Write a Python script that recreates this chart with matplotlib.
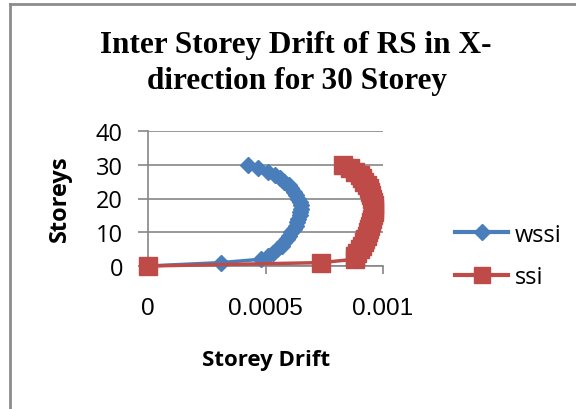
import matplotlib.pyplot as plt
from matplotlib.lines import Line2D

storeys = list(range(0, 31))

wssi = [0, 0.00031, 0.00048, 0.00051, 0.00053, 0.00055, 0.00057, 0.00058, 0.00059, 0.00060,
        0.00061, 0.00062, 0.00063, 0.000635, 0.00064, 0.000645, 0.000648, 0.00065, 0.00065,
        0.000645, 0.00064, 0.00063, 0.00062, 0.00061, 0.0006, 0.00058, 0.00056, 0.00054,
        0.00051, 0.00047, 0.000425]

ssi = [0, 0.000735, 0.00088, 0.00088, 0.00089, 0.0009, 0.00091, 0.00092, 0.000925, 0.00093,
       0.000935, 0.00094, 0.000945, 0.00095, 0.000955, 0.000958, 0.00096, 0.00096, 0.00096,
       0.000958, 0.000955, 0.00095, 0.000945, 0.00094, 0.00093, 0.00092, 0.00091, 0.0009,
       0.00088, 0.00086, 0.00083]

x_ticks = [0, 0.0005, 0.001]
x_tick_labels = ['0', '0.0005', '0.001']
y_ticks = [0, 10, 20, 30, 40]

BLUE = '#4a7ebb'
RED = '#be4b48'
GRID = '#868686'
W, H = 576, 410

fig = plt.figure(figsize=(5.76, 4.10), dpi=100)

# chart area border (left and top edges only are visible)
fig.add_artist(Line2D([10 / W, 10 / W], [0, 1 - 5 / H], transform=fig.transFigure,
                      color='#8c8c8c', linewidth=2))
fig.add_artist(Line2D([10 / W, 1], [1 - 5 / H, 1 - 5 / H], transform=fig.transFigure,
                      color='#8c8c8c', linewidth=2))

ax = fig.add_axes([148 / W, 1 - 267 / H, 235 / W, 135 / H])
ax.plot(wssi, storeys, color=BLUE, marker='D', markersize=8.5, linewidth=2.5, label='wssi',
        clip_on=False, zorder=3)
ax.plot(ssi, storeys, color=RED, marker='s', markersize=13, linewidth=2.5, label='ssi',
        clip_on=False, zorder=4)

ax.set_xlim(0, 0.001)
ax.set_ylim(0, 40)
ax.set_yticks(y_ticks)
ax.set_xticks(x_ticks)
ax.set_xticklabels(x_tick_labels, family='Liberation Sans', fontsize=17.5)
ax.tick_params(axis='x', length=6, color=GRID, width=1.2, pad=16)
ax.tick_params(axis='y', length=7, color=GRID, width=1.2, pad=11, labelsize=17)
for lbl in ax.get_yticklabels():
    lbl.set_family('Open Sans')
ax.grid(axis='y', color=GRID, linewidth=1.2)
ax.set_axisbelow(True)
for side in ['top', 'right']:
    ax.spines[side].set_visible(False)
for side in ['left', 'bottom']:
    ax.spines[side].set_color(GRID)
    ax.spines[side].set_linewidth(1.2)

fig.text(296 / W, 1 - 53 / H, 'Inter Storey Drift of RS in X-', ha='center', va='baseline',
         family='Liberation Serif', fontweight='bold', fontsize=22.5)
fig.text(297 / W, 1 - 89 / H, 'direction for 30 Storey', ha='center', va='baseline',
         family='Liberation Serif', fontweight='bold', fontsize=22.5)
fig.text(266 / W, 1 - 361 / H, 'Storey Drift', ha='center', va='center', family='Open Sans',
         fontweight='bold', fontsize=16)
fig.text(60 / W, 1 - 199 / H, 'Storeys', ha='center', va='center', rotation=90,
         family='Open Sans', fontweight='bold', fontsize=17)

handles = [Line2D([], [], color=BLUE, marker='D', markersize=8, linewidth=3),
           Line2D([], [], color=RED, marker='s', markersize=12, linewidth=3)]
leg = fig.legend(handles, ['wssi', 'ssi'], loc='center left', bbox_to_anchor=(455 / W, 1 - 257 / H),
                 frameon=False, handlelength=2.25, labelspacing=0.8, handletextpad=0.3,
                 borderpad=0, borderaxespad=0, prop={'family': 'Open Sans', 'size': 17})

fig.savefig('out.png', dpi=100)
